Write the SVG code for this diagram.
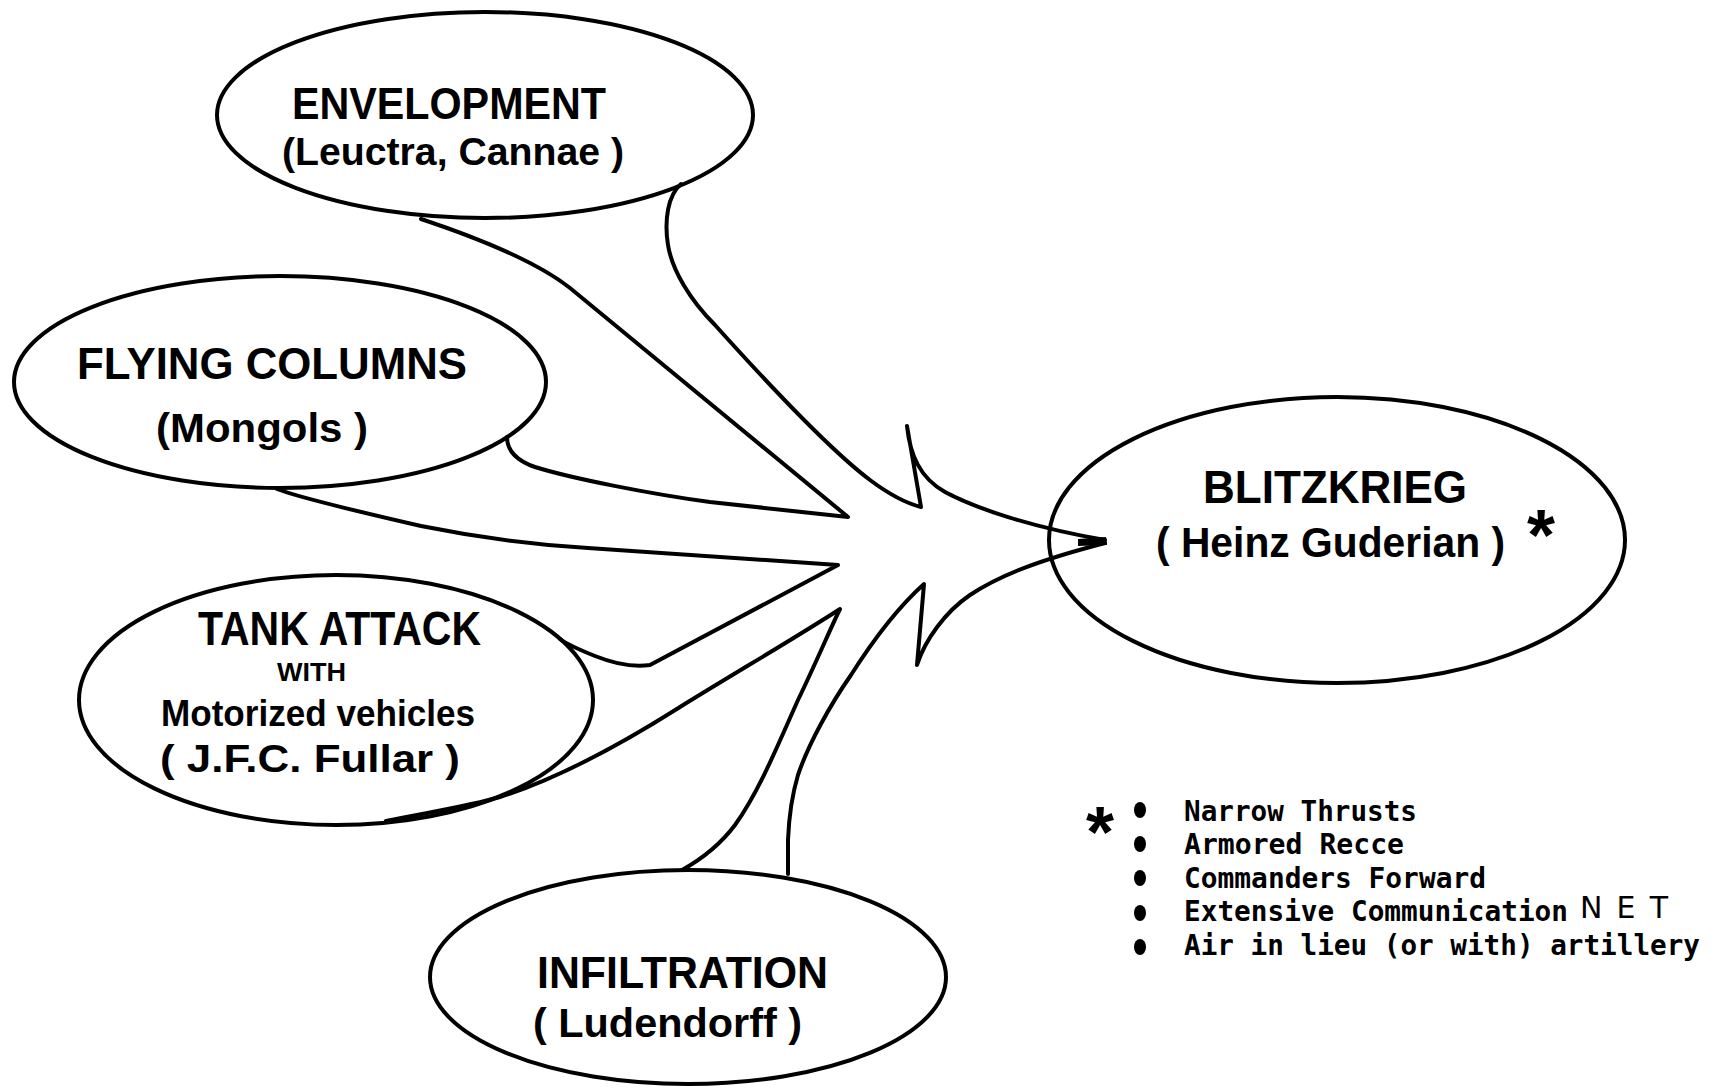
<svg xmlns="http://www.w3.org/2000/svg" width="1718" height="1092" viewBox="0 0 1718 1092">
<style>
.ol{fill:none;stroke:#000;stroke-width:4;stroke-linejoin:round;stroke-linecap:round}
.h{font-family:"Liberation Sans",Arial,sans-serif;font-weight:bold;fill:#000}
.m{font-family:"DejaVu Sans Mono","Liberation Mono",monospace;font-weight:bold;fill:#000}
.dot{fill:#000}
</style>
<rect width="1718" height="1092" fill="#fff"/>
<g id="connectors">
<path class="ol" d="M421,219 C460,232 532,258 570,288 L848,517 L710,502 C650,494 570,478 535,467 C515,460 507,450 507,437"/>
<path class="ol" d="M681,184 C668,195 664,220 668,245 C672,270 690,300 715,325 C760,375 830,450 870,480 C890,495 905,503 921,507 L907,426 C910,455 920,478 945,492 C975,508 1030,527 1105,540"/>
<path class="ol" d="M277,489 C300,498 360,512 421,526 C480,538 540,545 588,548 L838,565 L650,665 C630,668 610,662 595,656 C580,650 568,645 560,639"/>
<path class="ol" d="M386,821 C430,812 470,806 500,797 C560,778 620,745 680,707 C740,670 800,635 840,609 C832,625 815,665 798,700 C780,740 760,790 735,825 C720,845 700,860 682,870"/>
<path class="ol" d="M788,874 L788,840 C789,815 792,795 798,775 C808,745 830,705 851,675 C870,645 895,610 924,584 L917,665 C925,640 945,612 970,595 C1000,575 1040,560 1105,543"/>
<path d="M1078,539 L1106,537 L1107,545 L1078,546 Z" fill="#000"/>
</g>
<g id="envelopment">
<ellipse class="ol" cx="485" cy="115" rx="268" ry="103"/>
<text class="h" x="292" y="119" font-size="44" textLength="314" lengthAdjust="spacingAndGlyphs">ENVELOPMENT</text>
<text class="h" x="282" y="165" font-size="38" textLength="342" lengthAdjust="spacingAndGlyphs">(Leuctra, Cannae )</text>
</g>
<g id="flying-columns">
<ellipse class="ol" cx="280" cy="382" rx="266" ry="106"/>
<text class="h" x="77" y="379" font-size="44" textLength="390" lengthAdjust="spacingAndGlyphs">FLYING  COLUMNS</text>
<text class="h" x="156" y="442" font-size="40" textLength="212" lengthAdjust="spacingAndGlyphs">(Mongols )</text>
</g>
<g id="tank-attack">
<ellipse class="ol" cx="336" cy="700" rx="257" ry="125"/>
<text class="h" x="198" y="645" font-size="48" textLength="283" lengthAdjust="spacingAndGlyphs">TANK ATTACK</text>
<text class="h" x="277" y="681" font-size="26" textLength="69" lengthAdjust="spacingAndGlyphs">WITH</text>
<text class="h" x="161" y="726" font-size="37" textLength="314" lengthAdjust="spacingAndGlyphs">Motorized vehicles</text>
<text class="h" x="160" y="772" font-size="38" textLength="300" lengthAdjust="spacingAndGlyphs">( J.F.C. Fullar )</text>
</g>
<g id="infiltration">
<ellipse class="ol" cx="688" cy="977" rx="258" ry="107"/>
<text class="h" x="537" y="988" font-size="45" textLength="291" lengthAdjust="spacingAndGlyphs">INFILTRATION</text>
<text class="h" x="533" y="1037" font-size="40" textLength="269" lengthAdjust="spacingAndGlyphs">( Ludendorff )</text>
</g>
<g id="blitzkrieg">
<ellipse class="ol" cx="1337" cy="540" rx="288" ry="143"/>
<text class="h" x="1203" y="503" font-size="47" textLength="264" lengthAdjust="spacingAndGlyphs">BLITZKRIEG</text>
<text class="h" x="1156" y="557" font-size="42" textLength="349" lengthAdjust="spacingAndGlyphs">( Heinz Guderian )</text>
<text class="h" x="1541" y="560" font-size="72" text-anchor="middle">*</text>
</g>
<g id="legend">
<text class="h" x="1100" y="857" font-size="72" text-anchor="middle">*</text>
<ellipse class="dot" cx="1140" cy="810" rx="6" ry="8"/>
<ellipse class="dot" cx="1140" cy="844" rx="6" ry="8"/>
<ellipse class="dot" cx="1140" cy="878" rx="6" ry="8"/>
<ellipse class="dot" cx="1140" cy="913" rx="6" ry="8"/>
<ellipse class="dot" cx="1140" cy="947" rx="6" ry="8"/>
<text class="m" x="1184" y="821" font-size="28.5" textLength="233" lengthAdjust="spacingAndGlyphs">Narrow Thrusts</text>
<text class="m" x="1184" y="854" font-size="28.5" textLength="220" lengthAdjust="spacingAndGlyphs">Armored Recce</text>
<text class="m" x="1184" y="888" font-size="28.5" textLength="302" lengthAdjust="spacingAndGlyphs">Commanders Forward</text>
<text class="m" x="1184" y="921" font-size="28.5" textLength="384" lengthAdjust="spacingAndGlyphs">Extensive Communication</text>
<text x="1580" y="918" font-family="DejaVu Sans, sans-serif" font-size="30" textLength="88" lengthAdjust="spacing" fill="#000">NET</text>
<text class="m" x="1184" y="955" font-size="28.5" textLength="516" lengthAdjust="spacingAndGlyphs">Air in lieu (or with) artillery</text>
</g>
</svg>
